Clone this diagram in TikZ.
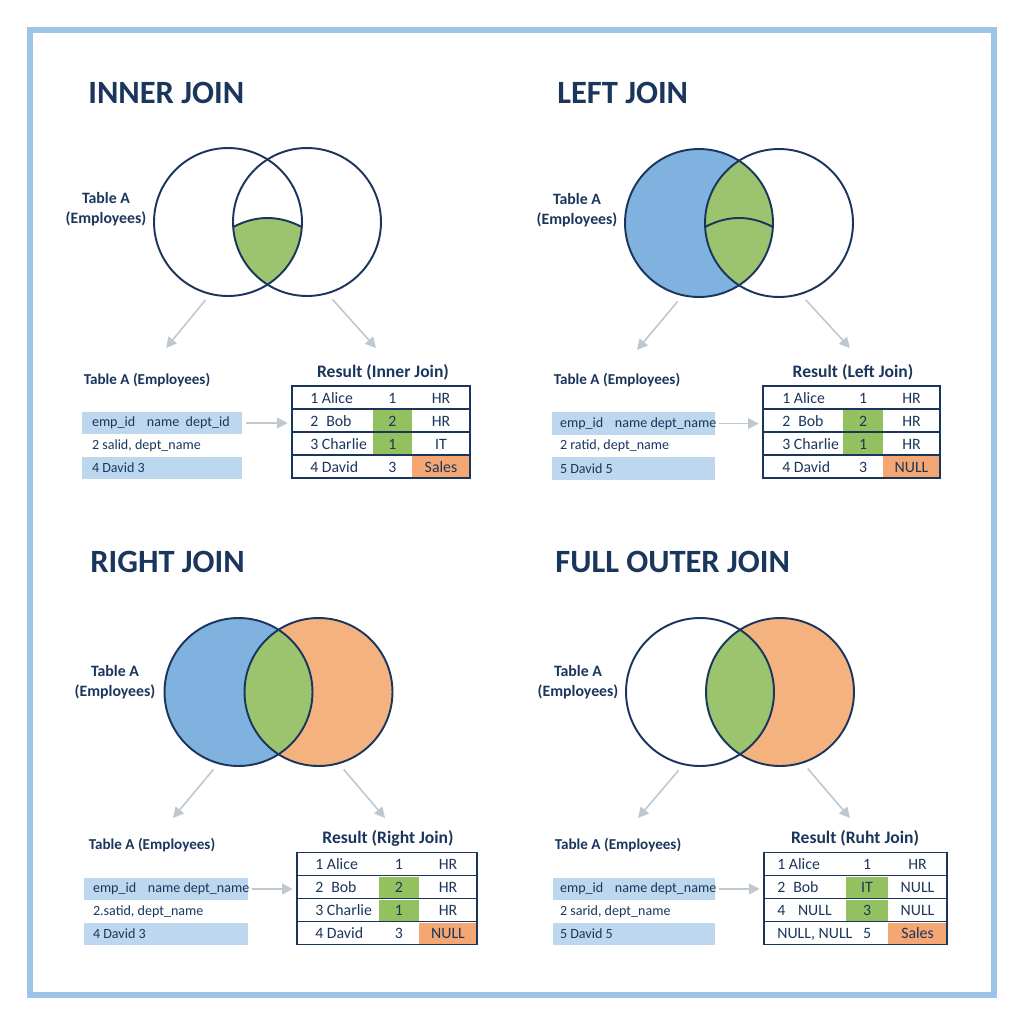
\documentclass[tikz,border=0pt]{standalone}
\usepackage{fontspec}
\setmainfont{Carlito}
\usetikzlibrary{positioning,arrows.meta}

\definecolor{navy}{HTML}{1B365D}
\definecolor{framecol}{HTML}{9DC3E6}
\definecolor{vblue}{HTML}{7FB2DE}
\definecolor{vgreen}{HTML}{9CC46E}
\definecolor{vorange}{HTML}{F4B27F}
\definecolor{rowblue}{HTML}{BDD7EE}
\definecolor{cgreen}{HTML}{93C160}
\definecolor{corange}{HTML}{F4A673}
\definecolor{arrgrey}{HTML}{BFC7CF}

\begin{document}
\begin{tikzpicture}[
  x=0.02cm, y=-0.02cm,
  title/.style={font=\fontsize{18.5}{22}\selectfont\bfseries,text=navy,anchor=west,inner sep=0pt},
  venn/.style={circle,draw=navy,line width=1.1pt,minimum size=2.96cm,inner sep=0pt},
  vlabel/.style={font=\fontsize{9}{11.3}\selectfont\bfseries,text=navy,align=center},
  tlabel/.style={font=\fontsize{8.6}{10}\selectfont\bfseries,text=navy,inner sep=0pt},
  rlabel/.style={font=\fontsize{10}{12}\selectfont\bfseries,text=navy,inner sep=0pt},
  arow/.style={minimum height=0.45cm,inner sep=0pt},
  ltext/.style={font=\fontsize{8}{10}\selectfont,text=navy,inner sep=0pt},
  cell/.style={minimum height=0.42cm,inner sep=0pt,font=\fontsize{9}{11}\selectfont,text=navy,text height=1.6ex,text depth=0.25ex},
  ctext/.style={inner sep=0pt,font=\fontsize{9}{11}\selectfont,text=navy,text height=1.6ex,text depth=0.25ex},
  rrow/.style={draw=navy,line width=0.9pt,minimum height=0.46cm,inner sep=0pt},
  garrow/.style={-{Triangle[length=6pt,width=6pt]},arrgrey,line width=0.9pt}
]
\fill[white] (0,0) rectangle (1024,1024);
\useasboundingbox (0,0) rectangle (1024,1024);
\draw[framecol,line width=3.3pt] (30,30) rectangle (994,995);

% ---------- INNER JOIN ----------
\node[title] (t-inner) at (88,93) {INNER JOIN};
\begin{scope}
  \clip (228,222) circle (74);
  \clip (307,222) circle (74);
  \fill[vgreen] (233.2,227) .. controls (256,215) and (279,215) .. (301.8,227) -- (301.8,300) -- (233.2,300) -- cycle;
\end{scope}
\node[venn] (ia) at (228,222) {};
\node[venn] (ib) at (307,222) {};
\draw[navy,line width=1.1pt] (233.2,227) .. controls (256,215) and (279,215) .. (301.8,227);
\node[vlabel] (ia-lbl) at (106,209) {Table A\\(Employees)};
\coordinate (ia-end) at (166,348);
\coordinate (ib-end) at (376,348);
\draw[garrow,shorten <=4pt] (ia.256) -- (ia-end);
\draw[garrow,shorten <=4pt] (ib.286) -- (ib-end);

\node[tlabel] (il-lbl) at (147,380) {Table A (Employees)};
\foreach \i/\t/\f in {1/{\makebox[1.1cm][l]{emp\_id}name\hspace{0.45em}dept\_id}/rowblue,
                      2/{2 salid, dept\_name}/white, 3/{4 David 3}/rowblue}{
  \pgfmathsetmacro{\y}{423+22.5*(\i-1)}
  \node[arow,fill=\f,minimum width=3.2cm] (il-\i) at (162,\y) {};
  \node[ltext,right=0.2cm of il-\i.west] (il-\i-t) {\t};
}
\node[rlabel] (ir-lbl) at (383,372) {Result (Inner Join)};
\foreach \i/\a/\b/\c/\fb/\fc in {1/1 Alice/1/HR/white/white, 2/2\enspace Bob/2/HR/cgreen/white,
                                 3/3 Charlie/1/IT/cgreen/white, 4/4 David/3/Sales/white/corange}{
  \pgfmathsetmacro{\y}{397.5+23*(\i-1)}
  \node[cell,fill=\fb,minimum width=0.78cm] (ir-\i-b) at (392.5,\y) {\b};
  \node[cell,fill=\fc,minimum width=1.16cm] (ir-\i-c) at (441,\y) {\c};
  \node[ctext,anchor=west] (ir-\i-a) at (310,\y) {\a};
  \node[rrow,minimum width=3.56cm] (ir-\i) at (381,\y) {};
}
\draw[garrow,shorten <=2pt,shorten >=2pt] (il-1.east) -- (il-1.east -| ir-2.west);

% ---------- LEFT JOIN ----------
\node[title] (t-left) at (557,93) {LEFT JOIN};
\fill[vblue] (699,223) circle (74);
\begin{scope}
  \clip (699,223) circle (74);
  \fill[vgreen] (779,223) circle (74);
\end{scope}
\node[venn] (la) at (699,223) {};
\node[venn] (lb) at (779,223) {};
\draw[navy,line width=1.1pt] (705.1,227) .. controls (727.7,215) and (750.3,215) .. (772.9,227);
\node[vlabel] (la-lbl) at (577,210) {Table A\\(Employees)};
\coordinate (la-end) at (637,350);
\coordinate (lb-end) at (850,348);
\draw[garrow,shorten <=4pt] (la.257) -- (la-end);
\draw[garrow,shorten <=4pt] (lb.287) -- (lb-end);

\node[tlabel] (ll-lbl) at (617,380) {Table A (Employees)};
\foreach \i/\t/\f in {1/{\makebox[1.1cm][l]{emp\_id}name dept\_name}/rowblue,
                      2/{2 ratid, dept\_name}/white, 3/{5 David 5}/rowblue}{
  \pgfmathsetmacro{\y}{423.5+22.5*(\i-1)}
  \node[arow,fill=\f,minimum width=3.26cm] (ll-\i) at (633.5,\y) {};
  \node[ltext,right=0.16cm of ll-\i.west] (ll-\i-t) {\t};
}
\node[rlabel] (lr-lbl) at (853,372) {Result (Left Join)};
\foreach \i/\a/\b/\c/\fb/\fc in {1/1 Alice/1/HR/white/white, 2/2\enspace Bob/2/HR/cgreen/white,
                                 3/3 Charlie/1/HR/cgreen/white, 4/4 David/3/NULL/white/corange}{
  \pgfmathsetmacro{\y}{397.5+23*(\i-1)}
  \node[cell,fill=\fb,minimum width=0.8cm] (lr-\i-b) at (863,\y) {\b};
  \node[cell,fill=\fc,minimum width=1.14cm] (lr-\i-c) at (911.5,\y) {\c};
  \node[ctext,anchor=west] (lr-\i-a) at (782,\y) {\a};
  \node[rrow,minimum width=3.54cm] (lr-\i) at (851.5,\y) {};
}
\draw[garrow,shorten <=2pt,shorten >=2pt] (ll-1.east) -- (ll-1.east -| lr-2.west);

% ---------- RIGHT JOIN ----------
\node[title] (t-right) at (90,562) {RIGHT JOIN};
\fill[vblue] (238.5,692) circle (74);
\fill[vorange] (318.5,692) circle (74);
\begin{scope}
  \clip (238.5,692) circle (74);
  \fill[vgreen] (318.5,692) circle (74);
\end{scope}
\node[venn] (ra) at (238.5,692) {};
\node[venn] (rb) at (318.5,692) {};
\node[vlabel] (ra-lbl) at (115,682.5) {Table A\\(Employees)};
\coordinate (ra-end) at (173,818);
\coordinate (rb-end) at (385,818);
\draw[garrow,shorten <=4pt] (ra.254) -- (ra-end);
\draw[garrow,shorten <=4pt] (rb.286) -- (rb-end);

\node[tlabel] (rl-lbl) at (152,845) {Table A (Employees)};
\foreach \i/\t/\f in {1/{\makebox[1.1cm][l]{emp\_id}name dept\_name}/rowblue,
                      2/{2.satid, dept\_name}/white, 3/{4 David 3}/rowblue}{
  \pgfmathsetmacro{\y}{889+22.5*(\i-1)}
  \node[arow,fill=\f,minimum width=3.28cm] (rl-\i) at (166,\y) {};
  \node[ltext,right=0.18cm of rl-\i.west] (rl-\i-t) {\t};
}
\node[rlabel] (rr-lbl) at (388,838) {Result (Right Join)};
\foreach \i/\a/\b/\c/\fb/\fc in {1/1 Alice/1/HR/white/white, 2/2\enspace Bob/2/HR/cgreen/white,
                                 3/3 Charlie/1/HR/cgreen/white, 4/4 David/3/NULL/white/corange}{
  \pgfmathsetmacro{\y}{864+23*(\i-1)}
  \node[cell,fill=\fb,minimum width=0.8cm] (rr-\i-b) at (399,\y) {\b};
  \node[cell,fill=\fc,minimum width=1.16cm] (rr-\i-c) at (448,\y) {\c};
  \node[ctext,anchor=west] (rr-\i-a) at (315,\y) {\a};
  \node[rrow,minimum width=3.6cm] (rr-\i) at (387,\y) {};
}
\draw[garrow,shorten <=2pt,shorten >=2pt] (rl-1.east) -- (rl-1.east -| rr-2.west);

% ---------- FULL OUTER JOIN ----------
\node[title] (t-full) at (555,562) {FULL OUTER JOIN};
\fill[vorange] (780,692) circle (74);
\begin{scope}
  \clip (700,692) circle (74);
  \fill[vgreen] (780,692) circle (74);
\end{scope}
\node[venn] (fa) at (700,692) {};
\node[venn] (fb) at (780,692) {};
\node[vlabel] (fa-lbl) at (578,682.5) {Table A\\(Employees)};
\coordinate (fa-end) at (638,818);
\coordinate (fb-end) at (850,818);
\draw[garrow,shorten <=4pt] (fa.257) -- (fa-end);
\draw[garrow,shorten <=4pt] (fb.288) -- (fb-end);

\node[tlabel] (fl-lbl) at (618,845) {Table A (Employees)};
\foreach \i/\t/\f in {1/{\makebox[1.1cm][l]{emp\_id}name dept\_name}/rowblue,
                      2/{2 sarid, dept\_name}/white, 3/{5 David 5}/rowblue}{
  \pgfmathsetmacro{\y}{889+22.5*(\i-1)}
  \node[arow,fill=\f,minimum width=3.24cm] (fl-\i) at (634,\y) {};
  \node[ltext,right=0.14cm of fl-\i.west] (fl-\i-t) {\t};
}
\node[rlabel] (fr-lbl) at (855,838) {Result (Ruht Join)};
\foreach \i/\a/\b/\c/\fb/\fc in {1/1 Alice/1/HR/white/white, 2/2\enspace Bob/IT/NULL/cgreen/white,
                                 3/4\hspace{0.8em}NULL/3/NULL/cgreen/white, 4/{NULL, NULL}/5/Sales/white/corange}{
  \pgfmathsetmacro{\y}{864+23*(\i-1)}
  \node[cell,fill=\fb,minimum width=0.84cm] (fr-\i-b) at (867,\y) {\b};
  \node[cell,fill=\fc,minimum width=1.18cm] (fr-\i-c) at (917.5,\y) {\c};
  \node[ctext,anchor=west] (fr-\i-a) at (777,\y) {\a};
  \node[rrow,minimum width=3.66cm] (fr-\i) at (855.5,\y) {};
}
\draw[garrow,shorten <=2pt,shorten >=2pt] (fl-1.east) -- (fl-1.east -| fr-2.west);
\end{tikzpicture}
\end{document}
